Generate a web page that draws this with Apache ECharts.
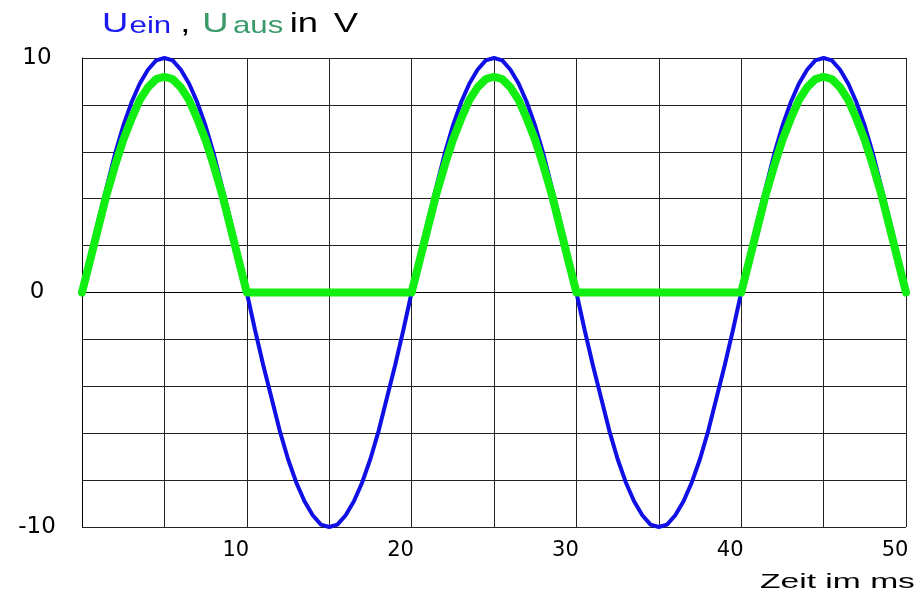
<!DOCTYPE html>
<html>
<head>
<meta charset="utf-8">
<script src="https://cdn.jsdelivr.net/npm/echarts@6/dist/echarts.min.js"></script>
<style>
  html, body { margin: 0; padding: 0; background: #fff; }
  #chart { width: 924px; height: 599px; }
</style>
</head>
<body>
<div id="chart"></div>
<script>
// Zeit in ms (Schritt 0,5 ms)
const zeit = [
  0, 0.5, 1, 1.5, 2, 2.5, 3, 3.5, 4, 4.5, 5, 5.5, 6, 6.5, 7, 7.5, 8, 8.5, 9, 9.5,
  10, 10.5, 11, 11.5, 12, 12.5, 13, 13.5, 14, 14.5, 15, 15.5, 16, 16.5, 17, 17.5, 18, 18.5, 19, 19.5,
  20, 20.5, 21, 21.5, 22, 22.5, 23, 23.5, 24, 24.5, 25, 25.5, 26, 26.5, 27, 27.5, 28, 28.5, 29, 29.5,
  30, 30.5, 31, 31.5, 32, 32.5, 33, 33.5, 34, 34.5, 35, 35.5, 36, 36.5, 37, 37.5, 38, 38.5, 39, 39.5,
  40, 40.5, 41, 41.5, 42, 42.5, 43, 43.5, 44, 44.5, 45, 45.5, 46, 46.5, 47, 47.5, 48, 48.5, 49, 49.5,
  50
];

// Eingangsspannung U_ein in V
const uEin = [
  0, 1.6, 3.1, 4.5, 5.9, 7.1, 8.1, 8.9, 9.5, 9.9, 10, 9.9, 9.5, 8.9, 8.1, 7.1, 5.9, 4.5, 3.1, 1.6,
  0, -1.6, -3.1, -4.5, -5.9, -7.1, -8.1, -8.9, -9.5, -9.9, -10, -9.9, -9.5, -8.9, -8.1, -7.1, -5.9, -4.5, -3.1, -1.6,
  0, 1.6, 3.1, 4.5, 5.9, 7.1, 8.1, 8.9, 9.5, 9.9, 10, 9.9, 9.5, 8.9, 8.1, 7.1, 5.9, 4.5, 3.1, 1.6,
  0, -1.6, -3.1, -4.5, -5.9, -7.1, -8.1, -8.9, -9.5, -9.9, -10, -9.9, -9.5, -8.9, -8.1, -7.1, -5.9, -4.5, -3.1, -1.6,
  0, 1.6, 3.1, 4.5, 5.9, 7.1, 8.1, 8.9, 9.5, 9.9, 10, 9.9, 9.5, 8.9, 8.1, 7.1, 5.9, 4.5, 3.1, 1.6,
  0
];

// Ausgangsspannung U_aus in V (Einweggleichrichtung)
const uAus = [
  0, 1.4, 2.8, 4.2, 5.4, 6.5, 7.4, 8.2, 8.75, 9.1, 9.2, 9.1, 8.75, 8.2, 7.4, 6.5, 5.4, 4.2, 2.8, 1.4,
  0, 0, 0, 0, 0, 0, 0, 0, 0, 0, 0, 0, 0, 0, 0, 0, 0, 0, 0, 0,
  0, 1.4, 2.8, 4.2, 5.4, 6.5, 7.4, 8.2, 8.75, 9.1, 9.2, 9.1, 8.75, 8.2, 7.4, 6.5, 5.4, 4.2, 2.8, 1.4,
  0, 0, 0, 0, 0, 0, 0, 0, 0, 0, 0, 0, 0, 0, 0, 0, 0, 0, 0, 0,
  0, 1.4, 2.8, 4.2, 5.4, 6.5, 7.4, 8.2, 8.75, 9.1, 9.2, 9.1, 8.75, 8.2, 7.4, 6.5, 5.4, 4.2, 2.8, 1.4,
  0
];

const yTickLabels = ['-10', '0', '10'];
const xTickLabels = ['10', '20', '30', '40', '50'];

const font = '"Liberation Sans", Arial, sans-serif';
const tickFont = '"DejaVu Sans", sans-serif';
const blue = '#1a1aee';
const green = '#3a9a6a';

const big = (color, pad) => ({
  fill: color, fontSize: 28, lineHeight: 30, fontFamily: font, fontWeight: 'normal',
  verticalAlign: 'bottom', padding: [0, 0, 0, pad]
});
const sub = (color, pad) => ({
  fill: color, fontSize: 24, lineHeight: 5, fontFamily: font, fontWeight: 'normal',
  verticalAlign: 'bottom', padding: [0, 0, 0, pad]
});

const chart = echarts.init(document.getElementById('chart'));

const option = {
  backgroundColor: '#fff',
  animation: false,
  graphic: [
    {
      type: 'text',
      x: 102,
      y: 8,
      scaleX: 1.3,
      style: {
        text: '{u1|U}{s1|ein}{c|,}{u2|U}{s2|aus}{w|in}{v|V}',
        verticalAlign: 'top',
        rich: {
          u1: big(blue, 0),
          s1: sub(blue, 1),
          c: big('#000', 7),
          u2: big(green, 9),
          s2: sub(green, 3.5),
          w: big('#000', 5),
          v: big('#000', 12)
        }
      }
    },
    {
      type: 'text',
      x: 760,
      y: 572,
      scaleX: 1.6,
      style: { text: 'Zeit im ms', fontSize: 21, fontFamily: font, fill: '#000', verticalAlign: 'top' }
    }
  ],
  grid: { left: 82, right: 18, top: 58, bottom: 72 },
  xAxis: {
    type: 'value',
    min: 0,
    max: 50,
    interval: 5,
    axisLine: { lineStyle: { color: '#000', width: 1 } },
    axisTick: { show: false },
    splitLine: { show: true, lineStyle: { color: '#222', width: 1 } },
    axisLabel: {
      margin: 13,
      fontSize: 21,
      fontFamily: tickFont,
      color: '#000',
      padding: [0, 22, 0, 0],
      formatter: v => (xTickLabels.includes(String(v)) ? String(v) : '')
    }
  },
  yAxis: {
    type: 'value',
    min: -10,
    max: 10,
    interval: 2,
    axisLine: { show: true, lineStyle: { color: '#000', width: 1 } },
    axisTick: { show: false },
    splitLine: { show: true, lineStyle: { color: '#222', width: 1 } },
    axisLabel: {
      margin: 45,
      align: 'center',
      fontSize: 23,
      fontFamily: tickFont,
      color: '#000',
      formatter: v => (yTickLabels.includes(String(v)) ? String(v) : '')
    }
  },
  series: [
    {
      name: 'U_ein',
      type: 'line',
      data: zeit.map((t, i) => [t, uEin[i]]),
      symbol: 'none',
      lineStyle: { color: '#1010e6', width: 4 },
      z: 2
    },
    {
      name: 'U_aus',
      type: 'line',
      data: zeit.map((t, i) => [t, uAus[i]]),
      symbol: 'none',
      lineStyle: { color: '#11ee11', width: 8, join: 'round', cap: 'round' },
      z: 3
    }
  ]
};

chart.setOption(option);
</script>
</body>
</html>
